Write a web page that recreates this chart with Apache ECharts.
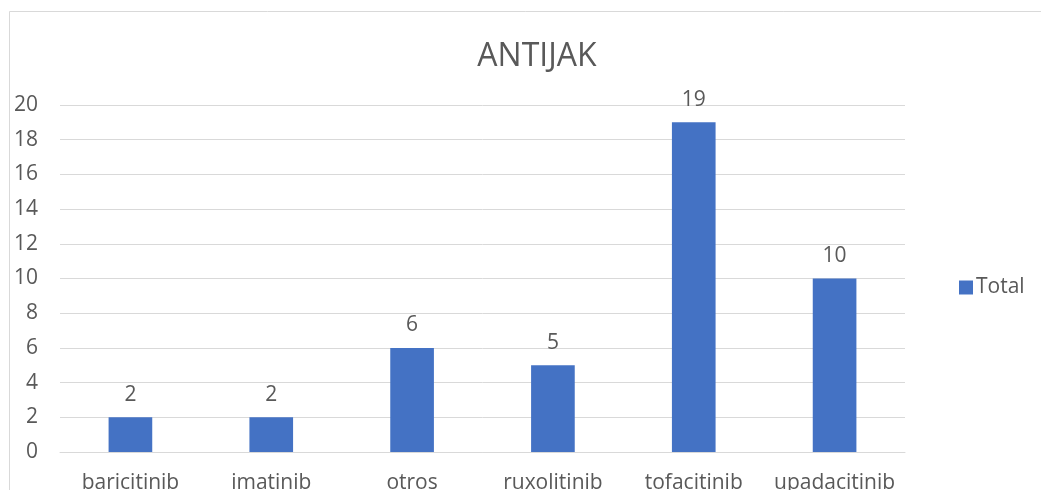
<!DOCTYPE html>
<html>
<head>
<meta charset="utf-8">
<style>
  html, body { margin: 0; padding: 0; background: #ffffff; overflow: hidden; }
  #chart { width: 1041px; height: 490px; }
</style>
<script src="https://cdn.jsdelivr.net/npm/echarts@6/dist/echarts.min.js"></script>
</head>
<body>
<div id="chart"></div>
<script>
// Drug categories and their totals
const categories = ['baricitinib', 'imatinib', 'otros', 'ruxolitinib', 'tofacitinib', 'upadacitinib'];
const totals = [2, 2, 6, 5, 19, 10];
const seriesName = 'Total';
const chartTitle = 'ANTIJAK';

const textColor = '#595959';
const fontFamily = "'Open Sans', 'Liberation Sans', sans-serif";

const chart = echarts.init(document.getElementById('chart'), null, { renderer: 'canvas', width: 1041, height: 490 });
chart.setOption({
  animation: false,
  backgroundColor: '#ffffff',
  textStyle: { fontFamily: fontFamily, color: textColor },
  title: {
    text: chartTitle,
    left: 532,
    top: 36,
    textAlign: 'center',
    textStyle: { fontSize: 32, fontWeight: 'normal', color: textColor, fontFamily: fontFamily }
  },
  graphic: [{
    type: 'rect',
    shape: { x: 9.5, y: 11.5, width: 1100, height: 600 },
    style: { fill: 'none', stroke: '#d9d9d9', lineWidth: 1 },
    silent: true
  }],
  legend: {
    data: [seriesName],
    left: 959,
    top: 277,
    padding: 0,
    itemWidth: 14,
    itemHeight: 14,
    itemGap: 5,
    icon: 'rect',
    textStyle: { fontSize: 21, color: textColor, fontFamily: fontFamily, padding: [0, 0, 0, -2] }
  },
  grid: { left: 60, top: 105, width: 845, height: 347, containLabel: false, outerBoundsMode: 'none' },
  xAxis: {
    type: 'category',
    data: categories,
    axisLine: { show: true, lineStyle: { color: '#d9d9d9', width: 1 } },
    axisTick: { show: false },
    axisLabel: { interval: 0, hideOverlap: false, fontSize: 21, color: textColor, margin: 21, fontFamily: fontFamily }
  },
  yAxis: {
    type: 'value',
    min: 0,
    max: 20,
    interval: 2,
    axisLine: { show: false },
    axisTick: { show: false },
    splitLine: { lineStyle: { color: '#d9d9d9', width: 1 } },
    axisLabel: { fontSize: 21, color: textColor, margin: 22, fontFamily: fontFamily }
  },
  series: [{
    name: seriesName,
    type: 'bar',
    data: totals,
    barWidth: '31%',
    itemStyle: { color: '#4472c4' },
    label: {
      show: true,
      position: 'top',
      distance: 12,
      fontSize: 21,
      color: textColor,
      fontFamily: fontFamily
    }
  }]
});
</script>
</body>
</html>
